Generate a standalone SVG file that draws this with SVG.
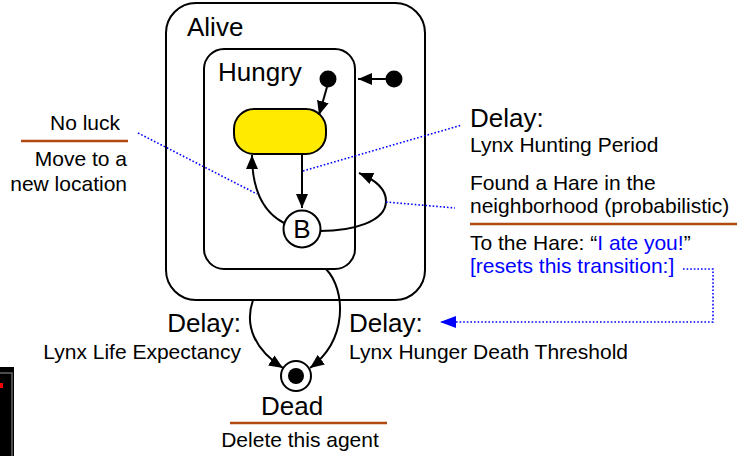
<svg xmlns="http://www.w3.org/2000/svg" width="737" height="456" viewBox="0 0 737 456">
<style>
.st{fill:none;stroke:#000;stroke-width:2}
.big{font-family:"Liberation Sans",Arial,sans-serif;font-size:26px;fill:#000}
.sm{font-family:"Liberation Sans",Arial,sans-serif;font-size:21px;fill:#000}
.blue{fill:#0000ff}
.tr{fill:none;stroke:#000;stroke-width:2}
.dot{fill:none;stroke:#0000ff;stroke-width:1.6;stroke-dasharray:1.6 2}
.rule{stroke:#b04a10;stroke-width:2.5}
</style>
<defs>
<marker id="ah" markerWidth="14" markerHeight="12" refX="14" refY="6" orient="auto" markerUnits="userSpaceOnUse">
<path d="M0,0 L14,6 L0,12 Z" fill="#000"/>
</marker>
<marker id="ahb" markerWidth="16" markerHeight="12" refX="16" refY="6" orient="auto" markerUnits="userSpaceOnUse">
<path d="M0,0 L16,6 L0,12 Z" fill="#0000ff"/>
</marker>
</defs>
<rect width="737" height="456" fill="#fff"/>

<g id="artifact">
<rect x="0" y="367" width="14" height="89" fill="#000"/>
<path d="M0,373 H12 V456" fill="none" stroke="#666" stroke-width="1.5"/>
<rect x="0" y="383" width="3" height="5" fill="#ff0000"/>
</g>

<g id="alive">
<rect x="166" y="3" width="259" height="297" rx="30" class="st"/>
<text x="187" y="36" class="big">Alive</text>
</g>

<g id="hungry">
<rect x="204" y="49" width="151" height="220" rx="20" class="st"/>
<text x="218" y="81" class="big">Hungry</text>
</g>

<g id="init-inner"><circle cx="328" cy="79" r="8.5" fill="#000"/></g>
<g id="init-outer"><circle cx="394" cy="79" r="8.5" fill="#000"/></g>

<g id="hunting">
<rect x="234" y="109" width="92" height="45" rx="20" fill="#ffea00" stroke="#000" stroke-width="2"/>
</g>

<g id="branch">
<circle cx="302" cy="229" r="18.5" fill="#fff" stroke="#000" stroke-width="2"/>
<text x="302" y="238" class="big" text-anchor="middle">B</text>
</g>

<g id="dead">
<circle cx="296" cy="376" r="15" fill="#fff" stroke="#000" stroke-width="2"/>
<circle cx="296" cy="376" r="8" fill="#000"/>
<text x="261" y="415" class="big">Dead</text>
<line x1="230" y1="423" x2="387" y2="423" class="rule"/>
<text x="300" y="447" class="sm" text-anchor="middle">Delete this agent</text>
</g>

<g id="connectors">
<path d="M386,79 H358" class="tr" marker-end="url(#ah)"/>
<path d="M327,87 L319,115" class="tr" marker-end="url(#ah)"/>
<path d="M302,154 V208" class="tr" marker-end="url(#ah)"/>
<path d="M284,223 C263,212 252,190 252,155" class="tr" marker-end="url(#ah)"/>
<path d="M320,231 C352,231 386,222 386,201 C386,190 378,181 359,173" class="tr" marker-end="url(#ah)"/>
<path d="M253,300 C244,326 255,350 283,368" class="tr" marker-end="url(#ah)"/>
<path d="M326,269 C346,290 348,340 310,368" class="tr" marker-end="url(#ah)"/>
<path d="M138,133 L257,194" class="dot"/>
<path d="M303,171 L462,125" class="dot"/>
<path d="M386,202 L455,208" class="dot"/>
<path d="M683,269 H713 V322 H440" class="dot" marker-end="url(#ahb)"/>
</g>

<g id="labels">
<text x="50" y="130" class="sm">No luck</text>
<line x1="21" y1="141" x2="128" y2="141" class="rule"/>
<text x="127" y="166" class="sm" text-anchor="end">Move to a</text>
<text x="127" y="191" class="sm" text-anchor="end">new location</text>

<text x="470" y="127" class="big">Delay:</text>
<text x="470" y="152" class="sm">Lynx Hunting Period</text>
<text x="470" y="190" class="sm">Found a Hare in the</text>
<text x="470" y="213" class="sm">neighborhood (probabilistic)</text>
<line x1="470" y1="224" x2="737" y2="224" class="rule"/>
<text x="470" y="250" class="sm">To the Hare: “<tspan class="blue">I ate you!</tspan>”</text>
<text x="470" y="273" class="sm blue">[resets this transition:]</text>

<text x="241" y="332" class="big" text-anchor="end">Delay:</text>
<text x="241" y="359" class="sm" text-anchor="end">Lynx Life Expectancy</text>
<text x="349" y="332" class="big">Delay:</text>
<text x="349" y="359" class="sm">Lynx Hunger Death Threshold</text>
</g>
</svg>
